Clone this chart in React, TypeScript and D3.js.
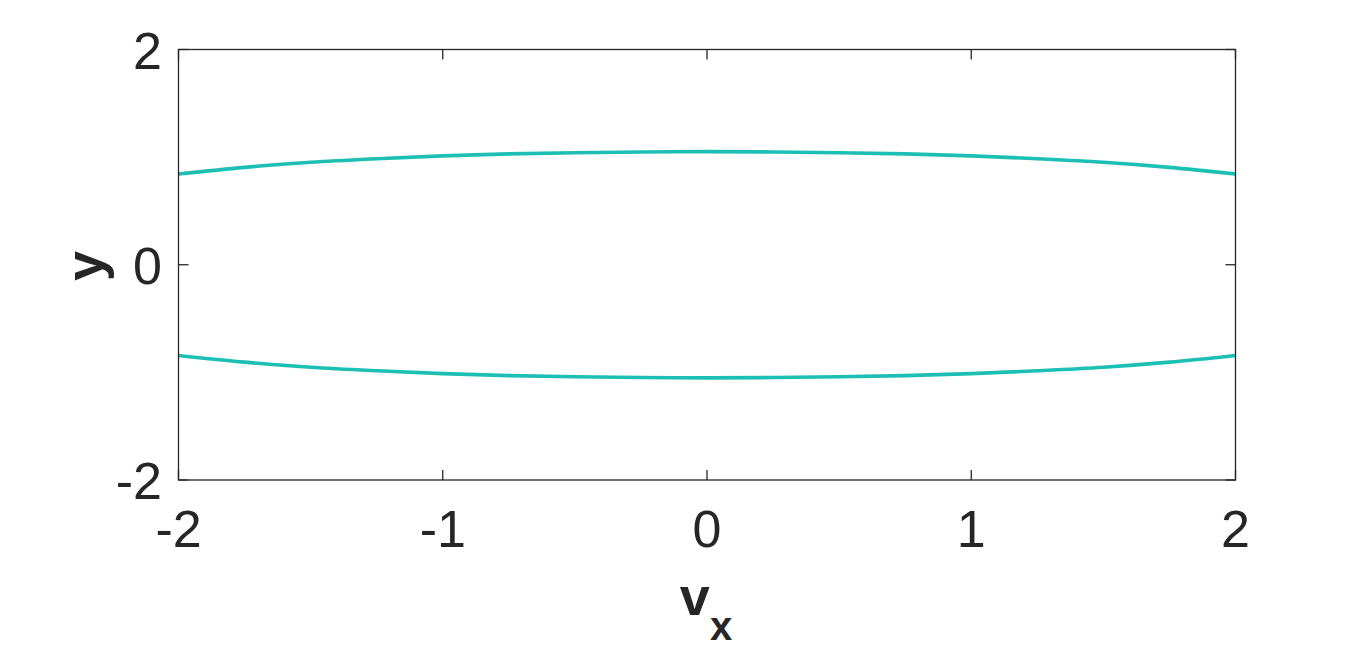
import React, { useEffect, useRef } from "react";
import * as d3 from "d3";

// v_x samples and the two branches
const vx = [-2, -1.75, -1.5, -1.25, -1, -0.75, -0.5, -0.25, 0, 0.25, 0.5, 0.75, 1, 1.25, 1.5, 1.75, 2];
const yUpper = [0.843, 0.905, 0.952, 0.985, 1.012, 1.03, 1.041, 1.048, 1.051, 1.048, 1.041, 1.03, 1.012, 0.985, 0.952, 0.905, 0.843];
const yLower = [-0.843, -0.905, -0.952, -0.985, -1.012, -1.03, -1.041, -1.048, -1.051, -1.048, -1.041, -1.03, -1.012, -0.985, -0.952, -0.905, -0.843];
const xTicks = [-2, -1, 0, 1, 2];
const yTicks = [-2, 0, 2];

const App = () => {
  const ref = useRef<SVGSVGElement>(null);

  useEffect(() => {
    const width = 1366;
    const height = 651;
    const left = 178.5, right = 1235.5, top = 49.5, bottom = 480;
    const ink = "#262626";
    const font = "'Liberation Sans', Arial, sans-serif";

    const svg = d3.select(ref.current)
      .attr("width", width)
      .attr("height", height);

    svg.selectAll("*").remove();

    const x = d3.scaleLinear().domain([-2, 2]).range([left, right]);
    const y = d3.scaleLinear().domain([-2, 2]).range([bottom, top]);

    svg.append("rect")
      .attr("width", width)
      .attr("height", height)
      .attr("fill", "#fff");

    const line = d3.line<number>()
      .x((_, i) => x(vx[i]))
      .y(d => y(d))
      .curve(d3.curveMonotoneX);

    [yUpper, yLower].forEach(s => {
      svg.append("path")
        .attr("d", line(s))
        .attr("fill", "none")
        .attr("stroke", "#1cbfb3")
        .attr("stroke-width", 3.6);
    });

    // box
    svg.append("rect")
      .attr("x", left)
      .attr("y", top)
      .attr("width", right - left)
      .attr("height", bottom - top)
      .attr("fill", "none")
      .attr("stroke", ink)
      .attr("stroke-width", 1.3);

    const tl = 10;
    xTicks.forEach(t => {
      svg.append("line").attr("x1", x(t)).attr("x2", x(t)).attr("y1", bottom).attr("y2", bottom - tl)
        .attr("stroke", ink).attr("stroke-width", 1.3);
      svg.append("line").attr("x1", x(t)).attr("x2", x(t)).attr("y1", top).attr("y2", top + tl)
        .attr("stroke", ink).attr("stroke-width", 1.3);
      svg.append("text")
        .attr("x", x(t))
        .attr("y", 547)
        .attr("text-anchor", "middle")
        .attr("font-family", font)
        .attr("font-size", 52)
        .attr("fill", ink)
        .text(t);
    });

    yTicks.forEach(t => {
      svg.append("line").attr("x1", left).attr("x2", left + tl).attr("y1", y(t)).attr("y2", y(t))
        .attr("stroke", ink).attr("stroke-width", 1.3);
      svg.append("line").attr("x1", right).attr("x2", right - tl).attr("y1", y(t)).attr("y2", y(t))
        .attr("stroke", ink).attr("stroke-width", 1.3);
      svg.append("text")
        .attr("x", 162)
        .attr("y", y(t) + 19)
        .attr("text-anchor", "end")
        .attr("font-family", font)
        .attr("font-size", 52)
        .attr("fill", ink)
        .text(t);
    });

    // x label v_x
    const xl = svg.append("text")
      .attr("x", 706)
      .attr("y", 615)
      .attr("text-anchor", "middle")
      .attr("font-family", font)
      .attr("font-weight", "bold")
      .attr("font-size", 54)
      .attr("fill", ink);
    xl.append("tspan").text("v");
    xl.append("tspan").attr("dy", 25).attr("font-size", 40).text("x");

    // y label
    svg.append("text")
      .attr("transform", "translate(103,266) rotate(-90)")
      .attr("text-anchor", "middle")
      .attr("font-family", font)
      .attr("font-weight", "bold")
      .attr("font-size", 54)
      .attr("fill", ink)
      .text("y");
  }, []);

  return <svg ref={ref} style={{ display: "block", position: "absolute", left: 0, top: 0 }}></svg>;
};

export default App;
